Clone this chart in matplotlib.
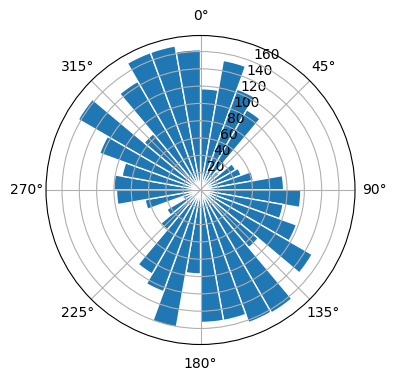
import numpy as np
import matplotlib
matplotlib.use("Agg")
import matplotlib.pyplot as plt

# bar centers (degrees, clockwise from north) and radii
angles_deg = [5, 15, 25, 35, 45, 55, 65, 75, 85,
              95, 105, 115, 125, 135, 145, 155, 165, 175,
              185, 195, 205, 215, 225, 235, 245, 255, 265,
              275, 285, 295, 305, 315, 325, 335, 345, 355]
radii = [117, 152, 124, 107, 28, 47, 50, 62, 96,
         116, 97, 118, 149, 87, 164, 163, 153, 153,
         97, 161, 125, 112, 60, 45, 22, 65, 97,
         100, 92, 124, 163, 85, 145, 169, 169, 162]
bar_width_deg = 10

fig = plt.figure(figsize=(3.96, 3.80), dpi=100)
ax = fig.add_axes([46 / 396, 1 - 344.5 / 380, 309 / 396, 309 / 380],
                  projection='polar')
ax.set_theta_zero_location('N')
ax.set_theta_direction(-1)
ax.bar(np.deg2rad(angles_deg), radii, width=np.deg2rad(bar_width_deg),
       bottom=0.0, color='#1f77b4', edgecolor='white', linewidth=1)
ax.set_ylim(0, 178.5)
ax.set_rlabel_position(22.5)
fig.savefig("out.png", dpi=100)
